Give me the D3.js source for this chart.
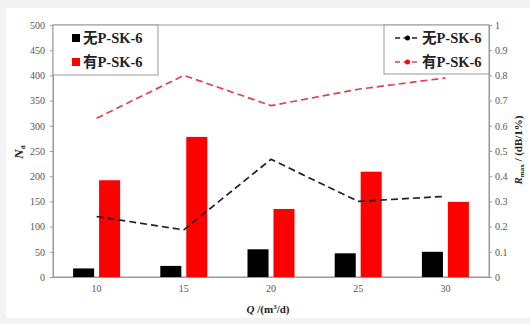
<!DOCTYPE html>
<html>
<head>
<meta charset="utf-8">
<script src="https://cdn.jsdelivr.net/npm/d3@7"></script>
<style>
  body { margin: 0; background: #f3f3f3; }
  svg { display: block; }
  .axis text { font-family: "Liberation Serif", "DejaVu Serif", serif; font-size: 10px; fill: #555; }
  .axis path, .axis line { stroke: #999; }
  .lbl { font-family: "Liberation Serif", "Noto Sans CJK SC", serif; font-weight: bold; fill: #222; }
</style>
</head>
<body>
<script>
// categories (flow rate Q)
var categories = ["10", "15", "20", "25", "30"];
// bars: N_a
var barNo = [17, 22, 55, 47, 50];
var barYes = [192, 278, 135, 209, 149];
// dashed lines: R_max
var lineNo = [0.24, 0.187, 0.467, 0.30, 0.32];
var lineYes = [0.63, 0.80, 0.68, 0.745, 0.79];
var leftTicks = [0, 50, 100, 150, 200, 250, 300, 350, 400, 450, 500];
var rightTicks = [0, 0.1, 0.2, 0.3, 0.4, 0.5, 0.6, 0.7, 0.8, 0.9, 1];
var seriesNames = ["无P-SK-6", "有P-SK-6"];

var W = 530, H = 324;
var margin = {top: 25, right: 41, bottom: 47, left: 53},
    width = W - margin.left - margin.right,
    height = H - margin.top - margin.bottom;

var root = d3.select("body").append("svg")
    .attr("width", W)
    .attr("height", H);

// white page area
root.append("rect")
    .attr("x", 6).attr("y", 8)
    .attr("width", W - 6).attr("height", 310)
    .attr("fill", "#fff");

var svg = root.append("g")
    .attr("transform", "translate(" + margin.left + "," + margin.top + ")");

var x0 = d3.scaleBand().domain(categories).range([0, width]);
var bw = x0.bandwidth();
var x1 = d3.scaleBand().domain([0, 1])
    .range([bw / 2 - 23.5, bw / 2 + 23.5]).paddingInner(0.19);
var yL = d3.scaleLinear().domain([0, 500]).range([height, 0]);
var yR = d3.scaleLinear().domain([0, 1]).range([height, 0]);

// plot frame
svg.append("rect")
    .attr("width", width).attr("height", height)
    .attr("fill", "none").attr("stroke", "#999");

// bars
var barColors = ["#000", "#f00"];
[barNo, barYes].forEach(function(vals, s) {
    svg.append("g").selectAll("rect")
        .data(vals)
        .enter().append("rect")
        .attr("x", function(d, i) { return x0(categories[i]) + x1(s); })
        .attr("y", function(d) { return yL(d); })
        .attr("width", x1.bandwidth())
        .attr("height", function(d) { return height - yL(d); })
        .attr("fill", barColors[s]);
});

// dashed lines
var lineGen = d3.line()
    .x(function(d, i) { return x0(categories[i]) + bw / 2; })
    .y(function(d) { return yR(d); });

var lineColors = ["#222", "#e2424c"];
[lineNo, lineYes].forEach(function(vals, s) {
    svg.append("path")
        .attr("d", lineGen(vals))
        .attr("fill", "none")
        .attr("stroke", lineColors[s])
        .attr("stroke-width", 1.7)
        .attr("stroke-dasharray", "7,4");
});

// axes
var serif = "Liberation Serif, DejaVu Serif, serif";
svg.append("g")
    .attr("class", "axis")
    .call(d3.axisLeft(yL).tickValues(leftTicks).tickSize(3).tickPadding(5).tickSizeOuter(0))
    .attr("font-family", serif);

svg.append("g")
    .attr("class", "axis")
    .attr("transform", "translate(" + width + ",0)")
    .call(d3.axisRight(yR).tickValues(rightTicks).tickSize(3).tickPadding(3).tickSizeOuter(0)
        .tickFormat(function(d) { return d3.format("")(+d.toFixed(1)); }))
    .attr("font-family", serif);

svg.append("g")
    .attr("class", "axis")
    .attr("transform", "translate(0," + height + ")")
    .call(d3.axisBottom(x0).tickSize(0).tickPadding(8))
    .attr("font-family", serif)
    .select(".domain").attr("stroke", "#999");

// left legend
var legL = svg.append("g");
legL.append("rect")
    .attr("width", 105).attr("height", 50)
    .attr("fill", "#fff").attr("stroke", "#999");
seriesNames.forEach(function(name, i) {
    var cy = 13 + i * 24;
    legL.append("rect")
        .attr("x", 19).attr("y", cy - 4)
        .attr("width", 8).attr("height", 8)
        .attr("fill", barColors[i]);
    legL.append("text")
        .attr("class", "lbl")
        .attr("x", 30).attr("y", cy + 5)
        .attr("font-size", "14.5px")
        .text(name);
});

// right legend
var legR = svg.append("g").attr("transform", "translate(" + (width - 105) + ",0)");
legR.append("rect")
    .attr("width", 105).attr("height", 49)
    .attr("fill", "#fff").attr("stroke", "#999");
seriesNames.forEach(function(name, i) {
    var cy = 13 + i * 24;
    legR.append("line")
        .attr("x1", 11).attr("x2", 36)
        .attr("y1", cy).attr("y2", cy)
        .attr("stroke", lineColors[i])
        .attr("stroke-width", 1.6)
        .attr("stroke-dasharray", "5,3.5");
    legR.append("circle")
        .attr("cx", 23.5).attr("cy", cy).attr("r", 2.5)
        .attr("fill", i === 0 ? "#000" : "#f00");
    legR.append("text")
        .attr("class", "lbl")
        .attr("x", 38).attr("y", cy + 5)
        .attr("font-size", "14.5px")
        .text(name);
});

// axis titles
var tl = root.append("text")
    .attr("class", "lbl")
    .attr("transform", "translate(23,152) rotate(-90)")
    .attr("text-anchor", "middle")
    .attr("font-size", "13px");
tl.append("tspan").attr("font-style", "italic").text("N");
tl.append("tspan").attr("font-size", "8px").attr("dy", 2).text("a");

var tr = root.append("text")
    .attr("class", "lbl")
    .attr("transform", "translate(522,150) rotate(-90)")
    .attr("text-anchor", "middle")
    .attr("font-size", "11px");
tr.append("tspan").attr("font-style", "italic").text("R");
tr.append("tspan").attr("font-size", "7px").attr("dy", 2).text("max");
tr.append("tspan").attr("dy", -2).text(" / (dB/1%)");

var tx = root.append("text")
    .attr("class", "lbl")
    .attr("x", 268).attr("y", 313)
    .attr("text-anchor", "middle")
    .attr("font-size", "11px");
tx.append("tspan").attr("font-style", "italic").text("Q");
tx.append("tspan").text(" /(m");
tx.append("tspan").attr("font-size", "7px").attr("dy", -4).text("3");
tx.append("tspan").attr("dy", 4).text("/d)");
</script>
</body>
</html>
